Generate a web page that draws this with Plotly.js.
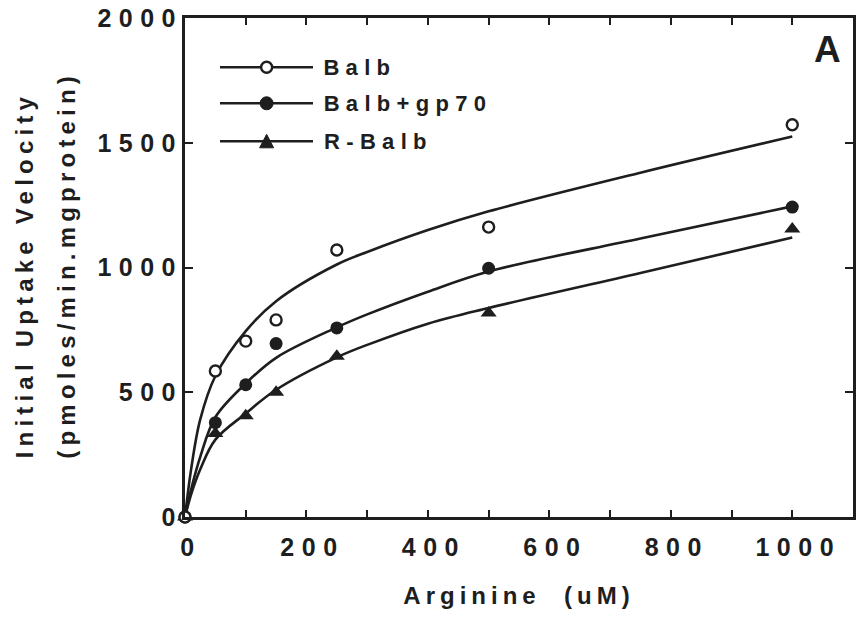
<!DOCTYPE html>
<html>
<head>
<meta charset="utf-8">
<script src="https://cdn.plot.ly/plotly-3.0.1.min.js"></script>
<style>
  html, body { margin: 0; padding: 0; background: #ffffff; }
  #chart { width: 857px; height: 624px; }
  .xtick text, .ytick text { letter-spacing: 7.5px; }
  .xtitle { letter-spacing: 5px; }
  .annotation[data-index="0"] text, .annotation[data-index="1"] text { letter-spacing: 5.2px; }
  .annotation[data-index="2"] text, .annotation[data-index="3"] text, .annotation[data-index="4"] text { letter-spacing: 6.3px; }
</style>
</head>
<body>
<div id="chart"></div>
<script>
// Measured points: arginine concentration (uM) vs initial uptake velocity
const arginine = [0, 50, 100, 150, 250, 500, 1000];
const balb = [0, 585, 705, 790, 1070, 1162, 1572];
const balbGp70 = [0, 378, 530, 695, 758, 997, 1242];
const rBalb = [0, 335, 406, 500, 644, 818, 1154];

// Fitted curves
const fitX = [0, 10, 25, 50, 100, 150, 250, 300, 400, 500, 750, 1000];
const balbFit = [0, 190, 390, 565, 745, 865, 1012, 1062, 1150, 1225, 1380, 1525];
const gp70Fit = [0, 110, 240, 400, 535, 638, 760, 812, 903, 984, 1116, 1245];
const rBalbFit = [0, 90, 190, 310, 415, 510, 640, 690, 775, 838, 978, 1120];

const seriesNames = ['Balb', 'Balb+gp70', 'R-Balb'];
const xTickVals = [0, 200, 400, 600, 800, 1000];
const yTickVals = [0, 500, 1000, 1500, 2000];

const ink = '#1e1e1e';
const fontFam = '"Liberation Sans", Arial, Helvetica, sans-serif';

function fitTrace(y) {
  return { x: fitX, y: y, mode: 'lines', line: { color: ink, width: 2.6, shape: 'spline', smoothing: 1 },
           showlegend: false, hoverinfo: 'skip', cliponaxis: false };
}

const traces = [
  fitTrace(balbFit), fitTrace(gp70Fit), fitTrace(rBalbFit),
  { x: arginine, y: rBalb, name: seriesNames[2], mode: 'markers', showlegend: false, cliponaxis: false,
    marker: { symbol: 'triangle-up', size: 14, color: ink } },
  { x: arginine, y: balbGp70, name: seriesNames[1], mode: 'markers', showlegend: false, cliponaxis: false,
    marker: { symbol: 'circle', size: 13, color: ink } },
  { x: arginine, y: balb, name: seriesNames[0], mode: 'markers', showlegend: false, cliponaxis: false,
    marker: { symbol: 'circle', size: 11, color: '#ffffff', line: { color: ink, width: 2.4 } } }
];

// Legend drawn as layout decorations (long sample lines like the original)
const legRowsY = [0.9013, 0.8291, 0.7529];
const legX0 = 0.0524, legX1 = 0.1916, legXm = 0.1222;
const legTextCenters = [0.2626, 0.3343, 0.2894];

const shapes = [];
legRowsY.forEach(function (yy) {
  shapes.push({ type: 'line', xref: 'paper', yref: 'paper', x0: legX0, x1: legX1, y0: yy, y1: yy,
                line: { color: ink, width: 2.6 } });
});
shapes.push({ type: 'circle', xref: 'paper', yref: 'paper', xsizemode: 'pixel', ysizemode: 'pixel',
              xanchor: legXm, yanchor: legRowsY[0], x0: -5.5, x1: 5.5, y0: -5.5, y1: 5.5,
              fillcolor: '#ffffff', line: { color: ink, width: 2.4 } });
shapes.push({ type: 'circle', xref: 'paper', yref: 'paper', xsizemode: 'pixel', ysizemode: 'pixel',
              xanchor: legXm, yanchor: legRowsY[1], x0: -6.5, x1: 6.5, y0: -6.5, y1: 6.5,
              fillcolor: ink, line: { color: ink, width: 1 } });
shapes.push({ type: 'path', xref: 'paper', yref: 'paper', xsizemode: 'pixel', ysizemode: 'pixel',
              xanchor: legXm, yanchor: legRowsY[2], path: 'M-7,-6.5 L7,-6.5 L0,7 Z',
              fillcolor: ink, line: { color: ink, width: 1 } });

const annotations = [
  { text: 'Initial Uptake Velocity', xref: 'paper', yref: 'paper', x: 0, y: 0.5, xanchor: 'center', yanchor: 'middle',
    xshift: -161, yshift: -8, textangle: -90, showarrow: false,
    font: { family: fontFam, size: 24, color: ink, weight: 'bold' } },
  { text: '(pmoles/min.mgprotein)', xref: 'paper', yref: 'paper', x: 0, y: 0.5, xanchor: 'center', yanchor: 'middle',
    xshift: -119, yshift: 2, textangle: -90, showarrow: false,
    font: { family: fontFam, size: 24, color: ink, weight: 'bold' } }
];
seriesNames.forEach(function (nm, i) {
  annotations.push({ text: nm, xref: 'paper', yref: 'paper', x: legTextCenters[i], y: legRowsY[i],
    xanchor: 'center', yanchor: 'middle',
    showarrow: false, font: { family: fontFam, size: 22, color: ink, weight: 'bold' } });
});
annotations.push({ text: 'A', xref: 'paper', yref: 'paper', x: 0.9618, y: 0.936, xanchor: 'center', yanchor: 'middle',
  showarrow: false, font: { family: fontFam, size: 37, color: ink, weight: 'bold' } });

const layout = {
  width: 857, height: 624,
  margin: { l: 185, r: 4, t: 18, b: 107 },
  paper_bgcolor: '#ffffff', plot_bgcolor: '#ffffff',
  showlegend: false,
  font: { family: fontFam, color: ink },
  xaxis: {
    range: [0, 1100], tickvals: xTickVals, ticktext: xTickVals.map(String),
    ticks: 'inside', ticklen: 7, tickwidth: 2, tickcolor: ink,
    minor: { dtick: 100, tick0: 0, ticks: 'inside', ticklen: 7, tickwidth: 2, tickcolor: ink },
    showline: true, linewidth: 3, linecolor: ink, mirror: 'ticks',
    showgrid: false, zeroline: false,
    tickfont: { family: fontFam, size: 25, color: ink, weight: 'bold' },
    ticklabelshift: 6, ticklabelstandoff: 6,
    title: { text: 'Arginine  (uM)', standoff: 28, font: { family: fontFam, size: 24, color: ink, weight: 'bold' } }
  },
  yaxis: {
    range: [0, 2000], tickvals: yTickVals, ticktext: yTickVals.map(String),
    ticks: 'inside', ticklen: 8, tickwidth: 2, tickcolor: ink,
    showline: true, linewidth: 3, linecolor: ink, mirror: 'ticks',
    showgrid: false, zeroline: false,
    tickfont: { family: fontFam, size: 25, color: ink, weight: 'bold' },
    ticklabelstandoff: -6
  },
  shapes: shapes,
  annotations: annotations
};

Plotly.newPlot('chart', traces, layout, { displayModeBar: false, staticPlot: true });
</script>
</body>
</html>
